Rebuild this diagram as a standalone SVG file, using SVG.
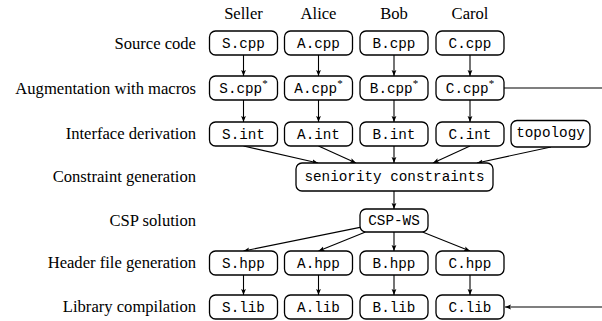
<svg xmlns="http://www.w3.org/2000/svg" width="602" height="321" viewBox="0 0 602 321">
<defs>
<marker id="ah" viewBox="0 0 10 10" refX="10" refY="5" markerWidth="6" markerHeight="6" markerUnits="userSpaceOnUse" orient="auto">
<path d="M0,1 L10,5 L0,9 L2,5 Z" fill="#000"/>
</marker>
</defs>
<style>
.box{fill:#fff;stroke:#000;stroke-width:1.3}
.mono{font-family:"Liberation Mono",monospace;font-size:14.3px;text-anchor:middle;fill:#000}
.lab{font-family:"Liberation Serif",serif;font-size:16.6px;fill:#000}
.row{text-anchor:end}
.col{text-anchor:middle}
.sup{font-family:"Liberation Serif",serif;font-size:11px}
.edge{fill:none;stroke:#000;stroke-width:1.1}
.arr{marker-end:url(#ah)}
</style>
<g id="labels">
<text class="lab col" x="243.5" y="19">Seller</text>
<text class="lab col" x="318.5" y="19">Alice</text>
<text class="lab col" x="394" y="19">Bob</text>
<text class="lab col" x="470" y="19">Carol</text>
<text class="lab row" x="196" y="48.5">Source code</text>
<text class="lab row" x="196" y="93.5">Augmentation with macros</text>
<text class="lab row" x="196" y="139">Interface derivation</text>
<text class="lab row" x="196" y="182">Constraint generation</text>
<text class="lab row" x="196" y="225.5">CSP solution</text>
<text class="lab row" x="196" y="268">Header file generation</text>
<text class="lab row" x="196" y="312">Library compilation</text>
</g>
<g id="connectors">
<path class="edge arr" d="M243.5,55 V76"/>
<path class="edge arr" d="M318.5,55 V76"/>
<path class="edge arr" d="M394,55 V76"/>
<path class="edge arr" d="M470,55 V76"/>
<path class="edge arr" d="M243.5,100 V122"/>
<path class="edge arr" d="M318.5,100 V122"/>
<path class="edge arr" d="M394,100 V122"/>
<path class="edge arr" d="M470,100 V122"/>
<path class="edge arr" d="M243.5,146 L318,163"/>
<path class="edge arr" d="M318.5,146 L356,163"/>
<path class="edge arr" d="M394,146 V163"/>
<path class="edge arr" d="M470,146 L433,163"/>
<path class="edge arr" d="M551,147 L477,163"/>
<path class="edge arr" d="M394,191 V209"/>
<path class="edge arr" d="M360,227.4 L243.5,251"/>
<path class="edge arr" d="M365.5,232 L318.5,251"/>
<path class="edge arr" d="M394,232 V251"/>
<path class="edge arr" d="M422.5,232 L470,251"/>
<path class="edge arr" d="M243.5,275 V295"/>
<path class="edge arr" d="M318.5,275 V295"/>
<path class="edge arr" d="M394,275 V295"/>
<path class="edge arr" d="M470,275 V295"/>
<path class="edge" d="M504,88 H602"/>
<path class="edge arr" d="M602,307 H505"/>
</g>
<g id="S.cpp"><rect class="box" x="209.5" y="31" width="68" height="24" rx="6"/><text class="mono" x="243.5" y="47.8">S.cpp</text></g>
<g id="A.cpp"><rect class="box" x="284.5" y="31" width="68" height="24" rx="6"/><text class="mono" x="318.5" y="47.8">A.cpp</text></g>
<g id="B.cpp"><rect class="box" x="360" y="31" width="68" height="24" rx="6"/><text class="mono" x="394" y="47.8">B.cpp</text></g>
<g id="C.cpp"><rect class="box" x="436" y="31" width="68" height="24" rx="6"/><text class="mono" x="470" y="47.8">C.cpp</text></g>
<g id="S.cpp2"><rect class="box" x="209.5" y="76" width="68" height="24" rx="6"/><text class="mono" x="243.5" y="92.8">S.cpp<tspan class="sup" dy="-6">*</tspan></text></g>
<g id="A.cpp2"><rect class="box" x="284.5" y="76" width="68" height="24" rx="6"/><text class="mono" x="318.5" y="92.8">A.cpp<tspan class="sup" dy="-6">*</tspan></text></g>
<g id="B.cpp2"><rect class="box" x="360" y="76" width="68" height="24" rx="6"/><text class="mono" x="394" y="92.8">B.cpp<tspan class="sup" dy="-6">*</tspan></text></g>
<g id="C.cpp2"><rect class="box" x="436" y="76" width="68" height="24" rx="6"/><text class="mono" x="470" y="92.8">C.cpp<tspan class="sup" dy="-6">*</tspan></text></g>
<g id="S.int"><rect class="box" x="209.5" y="122" width="68" height="24" rx="6"/><text class="mono" x="243.5" y="138.8">S.int</text></g>
<g id="A.int"><rect class="box" x="284.5" y="122" width="68" height="24" rx="6"/><text class="mono" x="318.5" y="138.8">A.int</text></g>
<g id="B.int"><rect class="box" x="360" y="122" width="68" height="24" rx="6"/><text class="mono" x="394" y="138.8">B.int</text></g>
<g id="C.int"><rect class="box" x="436" y="122" width="68" height="24" rx="6"/><text class="mono" x="470" y="138.8">C.int</text></g>
<g id="topology"><rect class="box" x="511" y="120.5" width="79" height="26.5" rx="6"/><text class="mono" x="550.5" y="136.5">topology</text></g>
<g id="seniority"><rect class="box" x="296" y="163" width="197" height="28" rx="6"/><text class="mono" x="394.5" y="181">seniority constraints</text></g>
<g id="CSP-WS"><rect class="box" x="360" y="209" width="68" height="23" rx="6"/><text class="mono" x="394" y="225.3">CSP-WS</text></g>
<g id="S.hpp"><rect class="box" x="209.5" y="251" width="68" height="24" rx="6"/><text class="mono" x="243.5" y="267.8">S.hpp</text></g>
<g id="A.hpp"><rect class="box" x="284.5" y="251" width="68" height="24" rx="6"/><text class="mono" x="318.5" y="267.8">A.hpp</text></g>
<g id="B.hpp"><rect class="box" x="360" y="251" width="68" height="24" rx="6"/><text class="mono" x="394" y="267.8">B.hpp</text></g>
<g id="C.hpp"><rect class="box" x="436" y="251" width="68" height="24" rx="6"/><text class="mono" x="470" y="267.8">C.hpp</text></g>
<g id="S.lib"><rect class="box" x="209.5" y="295" width="68" height="24" rx="6"/><text class="mono" x="243.5" y="311.8">S.lib</text></g>
<g id="A.lib"><rect class="box" x="284.5" y="295" width="68" height="24" rx="6"/><text class="mono" x="318.5" y="311.8">A.lib</text></g>
<g id="B.lib"><rect class="box" x="360" y="295" width="68" height="24" rx="6"/><text class="mono" x="394" y="311.8">B.lib</text></g>
<g id="C.lib"><rect class="box" x="436" y="295" width="68" height="24" rx="6"/><text class="mono" x="470" y="311.8">C.lib</text></g>
</svg>
